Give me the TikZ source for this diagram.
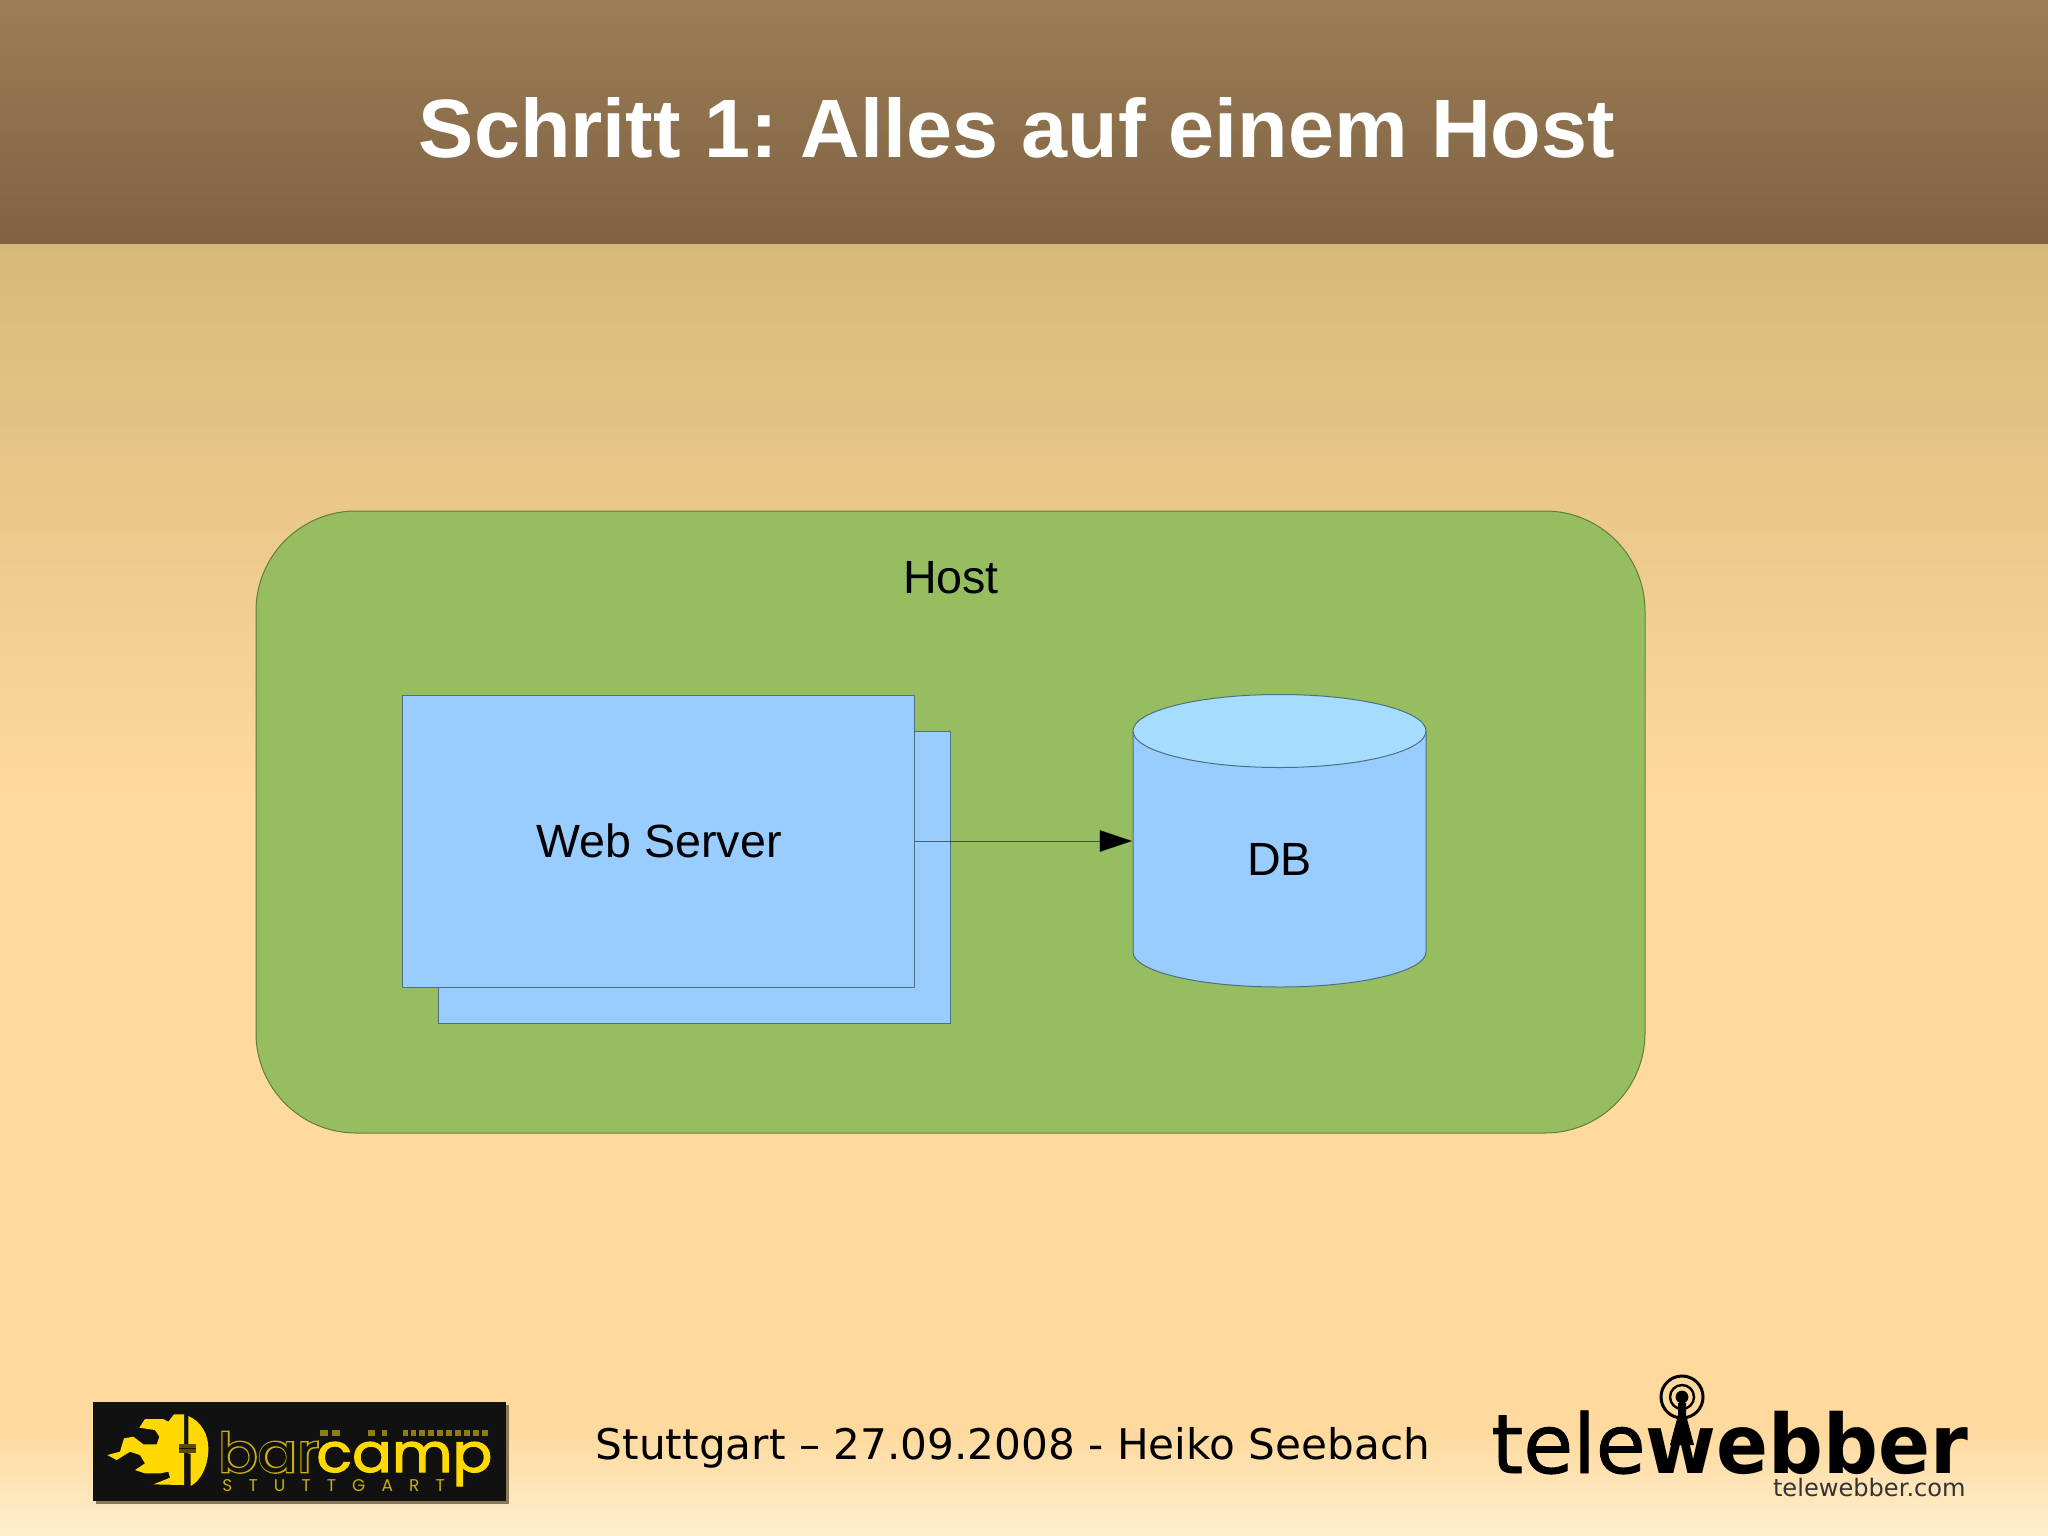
\documentclass[tikz,border=0pt]{standalone}
\usepackage{fontspec}
\usetikzlibrary{arrows.meta}
\setmainfont{Liberation Sans}
\newfontfamily\dejasans{DejaVu Sans}
\newfontfamily\telefont[FakeBold=1]{DejaVu Sans}
\newfontfamily\popp{Poppins}
\newfontfamily\poppfat[FakeBold=5]{Poppins}
\newfontfamily\poppcamp[FakeBold=2]{Poppins}
\newfontfamily\poppspaced[LetterSpace=95]{Poppins}
\definecolor{headtop}{HTML}{9C7D55}
\definecolor{headbot}{HTML}{7E6243}
\definecolor{bgtop}{HTML}{D6B979}
\definecolor{bgmid}{HTML}{FFD99D}
\definecolor{bgbot}{HTML}{FFEFCF}
\definecolor{hostgreen}{HTML}{97BD61}
\definecolor{hostline}{HTML}{5F7F3C}
\definecolor{boxblue}{HTML}{99CCFF}
\definecolor{boxline}{HTML}{4F6F80}
\definecolor{lidblue}{HTML}{A6DDFF}
\definecolor{bcyellow}{HTML}{FFD900}
\definecolor{bcdim}{HTML}{C8AE10}
\definecolor{bcfaint}{HTML}{8F7D10}
\definecolor{bcblack}{HTML}{111111}
\tikzset{
  hostbox/.style={draw=hostline,line width=0.5pt,fill=hostgreen,rounded corners=50pt,inner sep=0pt},
  serverbox/.style={draw=boxline,line width=0.5pt,fill=boxblue,inner sep=0pt},
  label/.style={font=\fontsize{23.3}{28}\selectfont,text=black,inner sep=0pt},
  link/.style={draw=black,draw opacity=0.55,line width=0.5pt,-{Triangle[length=16.5pt,width=11pt,fill=black]}},
}
\begin{document}
\begin{tikzpicture}[x=0.5pt,y=-0.5pt]
\useasboundingbox (0,0) rectangle (2048,1535);
% background
\shade[top color=headtop,bottom color=headbot] (0,0) rectangle (2048,245);
\shade[top color=bgtop,bottom color=bgmid] (0,245) rectangle (2048,801);
\fill[bgmid] (0,800) rectangle (2048,1431);
\shade[top color=bgmid,bottom color=bgbot] (0,1430) rectangle (2048,1535);
\node[font=\bfseries\fontsize{41.4}{48}\selectfont,text=white,inner sep=0pt] (title) at (1017,128) {\frenchspacing Schritt 1: Alles auf einem Host};
% host
\node[hostbox,minimum width=694.5pt,minimum height=311pt] (host) at (950.5,822) {};
\node[label] (hostlabel) at (951,578) {Host};
% web servers
\node[serverbox,minimum width=256pt,minimum height=146pt] (back) at (694.5,877) {};
\node[serverbox,minimum width=256pt,minimum height=146pt] (front) at (658,841) {};
\node[label] (weblabel) at (659,841) {Web Server};
% database
\path[fill=boxblue,draw=boxline,line width=0.5pt]
  (1133,731) -- (1133,952) arc[start angle=180,end angle=360,x radius=73.25pt,y radius=17.5pt]
  -- (1426,731) -- cycle;
\draw[fill=lidblue,draw=boxline,line width=0.5pt] (1279.5,731) ellipse[x radius=73.25pt,y radius=18.25pt];
\node[minimum width=146.5pt,minimum height=146.5pt,inner sep=0pt] (db) at (1279.5,841) {};
\node[label] (dblabel) at (1279.5,859) {DB};
\draw[link] (front.east) -- (db.west);
% footer
\node[font=\dejasans\fontsize{21.1}{26}\selectfont,text=black,inner sep=0pt,anchor=base] (footer) at (1013,1459) {Stuttgart – 27.09.2008 - Heiko Seebach};
% barcamp logo
\fill[black!45!bgmid] (96,1405) rectangle (509,1504);
\fill[bcblack] (93,1402) rectangle (506,1501);
\begin{scope}[shift={(100,1405)},x=0.1667pt,y=-0.1667pt]
\fill[bcyellow] (22,150) -- (60,140) -- (72,100) -- (100,95) -- (130,118) -- (170,118) -- (178,95) -- (165,75) -- (118,68) -- (135,42) -- (190,42) -- (205,50) -- (222,28) -- (252,28) -- (252,240) -- (160,238) -- (210,218) -- (205,200) -- (180,205) -- (135,205) -- (105,195) -- (135,175) -- (120,150) -- (90,140) -- (50,165) -- cycle;
\fill[bcyellow] (265,33) .. controls (305,50) and (325,90) .. (325,130) .. controls (325,180) and (305,225) .. (272,243) -- (272,146) -- (265,146) -- cycle;
\fill[black!65!bcyellow] (238,118) rectangle (288,145);
\fill[bcblack] (238,128) rectangle (288,133);
\end{scope}
\node[inner sep=0pt,anchor=base west,text=bcdim] (bar) at (218,1472) {\scalebox{1.08}[1]{\fontsize{27}{30}\selectfont\rlap{\poppfat bar}\textcolor{bcblack}{\popp bar}}};
\node[inner sep=0pt,anchor=base west,text=bcyellow] (camp) at (316,1472) {\scalebox{1.09}[1]{\fontsize{27}{30}\selectfont\poppcamp camp}};
\node[inner sep=0pt,anchor=base west,text=bcdim] (stgt) at (222,1491) {\fontsize{8.5}{10}\selectfont\poppspaced STUTTGART};
\foreach \a/\b in {320/328,332/340,368/375,382/387,403/408,411/416,419/425,428/434,437/443,446/452,455/461,464/470,473/479,482/488}
  \fill[bcfaint] (\a,1430) rectangle (\b,1436);
% telewebber logo
\node[inner sep=0pt,anchor=base west,text=black] (tele) at (1491,1473) {\scalebox{0.99}[1]{\fontsize{41}{46}\selectfont\telefont tele}};
\node[inner sep=0pt,anchor=base west,text=black] (webber) at (1645,1473) {\scalebox{0.935}[1]{\fontsize{41}{46}\selectfont\dejasans\bfseries webber}};
\draw[black,line width=1.5pt] (1682,1397) circle[radius=10.5pt];
\draw[black,line width=1.2pt] (1682,1397) circle[radius=6pt];
\fill[black] (1682,1397) circle[radius=3.2pt];
\fill[black] (1678,1403) -- (1686,1403) -- (1686,1415) -- (1694,1445) -- (1670,1445) -- (1678,1415) -- cycle;
\node[inner sep=0pt,anchor=base east,text=black!80] (site) at (1966,1496) {\fontsize{12.05}{15}\selectfont\dejasans telewebber.com};
\end{tikzpicture}
\end{document}
